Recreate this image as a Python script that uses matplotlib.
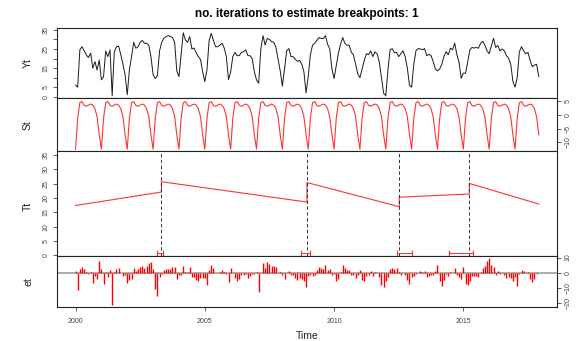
import numpy as np
import matplotlib
matplotlib.use('Agg')
import matplotlib.pyplot as plt

plt.rcParams['font.family'] = ['Liberation Sans', 'DejaVu Sans']

# monthly observations, Jan 2000 - Dec 2017
start_year = 2000
n_years = 18

# observed series Yt
yt = [
    6.1, 5.0, 24.5, 26.2, 24.0, 21.9, 20.5, 22.8, 14.9, 18.4, 14.0, 19.2,    # 2000
    8.8, 10.5, 24.0, 21.0, 24.5, 0.5, 23.5, 26.2, 26.5, 22.0, 17.0, 11.5,    # 2001
    1.0, 14.0, 21.0, 28.5, 25.4, 26.2, 28.5, 29.5, 28.0, 28.0, 27.0, 21.0,   # 2002
    11.5, 9.5, 11.0, 24.0, 28.5, 30.6, 31.5, 32.0, 31.5, 31.0, 28.5, 13.5,   # 2003
    10.5, 22.0, 33.5, 29.7, 28.5, 31.5, 25.0, 25.5, 23.0, 21.0, 19.5, 13.0,  # 2004
    7.9, 14.0, 29.5, 33.2, 29.5, 26.2, 26.2, 27.0, 28.0, 25.5, 21.0, 9.0,    # 2005
    13.0, 21.0, 23.2, 21.5, 21.5, 23.2, 23.6, 24.5, 21.5, 21.5, 20.0, 13.0,  # 2006
    8.8, 7.0, 25.0, 32.0, 27.1, 30.5, 30.0, 28.9, 28.5, 26.0, 19.5, 13.5,    # 2007
    5.5, 14.5, 24.0, 25.2, 21.0, 21.0, 19.5, 18.5, 19.0, 17.0, 13.0, 2.0,    # 2008
    10.5, 22.0, 27.0, 28.0, 29.5, 31.0, 30.5, 30.5, 32.0, 27.5, 25.0, 14.5,  # 2009
    9.5, 16.0, 22.8, 27.5, 31.0, 28.0, 27.0, 27.0, 23.3, 21.9, 17.0, 12.0,   # 2010
    10.0, 14.5, 19.0, 22.5, 22.0, 24.0, 21.0, 23.5, 22.5, 18.0, 10.0, 1.8,   # 2011
    0.5, 14.0, 24.5, 25.2, 23.0, 23.2, 21.0, 22.5, 24.0, 21.0, 15.0, 6.0,    # 2012
    5.0, 17.0, 24.0, 25.2, 25.0, 24.6, 25.2, 21.5, 22.2, 21.5, 18.5, 14.5,   # 2013
    13.5, 14.5, 17.0, 21.0, 23.6, 22.0, 25.4, 24.6, 28.0, 22.0, 18.0, 9.6,   # 2014
    12.3, 12.3, 18.0, 24.5, 25.8, 25.5, 25.8, 25.4, 28.0, 29.0, 27.0, 24.0,  # 2015
    22.5, 26.5, 30.6, 25.8, 26.8, 24.0, 25.0, 24.0, 21.5, 20.2, 17.0, 8.0,   # 2016
    5.0, 10.0, 23.5, 26.2, 24.0, 22.5, 23.2, 19.0, 15.8, 16.5, 17.0, 10.5,   # 2017
]

# seasonal component St (same every year)
st_year = [-12.5, -1.3, 4.4, 4.8, 3.4, 3.1, 3.5, 3.9, 3.5, 2.2, -0.7, -7.3]

# trend component Tt: piecewise linear between breakpoints
breakpoints = [2003.32, 2008.95, 2012.52, 2015.23]
ci_low = [2003.17, 2008.72, 2012.43, 2014.43]
ci_high = [2003.38, 2009.06, 2013.01, 2015.36]
trend_time = [2000.0, 2003.32, 2003.32, 2008.95, 2008.95, 2012.52, 2012.52,
              2015.23, 2015.23, 2017.92]
trend_value = [17.4, 22.1, 25.7, 18.6, 25.4, 17.0, 20.3, 21.4, 25.1, 17.9]

# remainder et
et = [
    1.2, -11.2, 2.5, 3.6, 2.7, 0.8, -1.1, 0.7, -6.9, -2.3, -3.9, 7.8,
    2.5, -7.1, 0.6, -3.0, 1.8, -21.5, 0.5, 2.7, 3.3, -0.1, -2.3, -1.3,
    -6.7, -5.0, -3.8, 3.1, 1.3, 2.3, 4.1, 4.6, 3.4, 4.5, 6.3, 6.8,
    2.4, -10.9, -15.2, -2.8, -0.6, 1.9, 2.5, 2.7, 2.7, 3.6, 4.1, -4.2,
    -1.8, -1.4, 4.5, 0.4, 0.7, 4.1, -2.7, -2.5, -4.5, -5.1, -3.6, -3.4,
    -3.2, -8.2, 1.7, 5.1, 2.9, 0.0, -0.3, 0.2, 1.7, 0.6, -0.8, -6.1,
    3.2, 0.1, -3.3, -5.3, -3.8, -1.7, -1.6, -1.0, -3.5, -2.1, -0.6, -0.9,
    0.2, -12.7, -0.3, 6.4, 3.0, 6.8, 6.0, 4.6, 4.7, 3.6, 0.1, 0.8,
    -1.8, -3.9, 0.0, 0.9, -1.8, -1.4, -3.2, -4.5, -3.5, -4.1, -5.1, -9.3,
    -2.3, -1.8, -2.3, -1.5, 1.6, 3.6, 2.9, 2.7, 4.8, 1.8, 2.4, -1.3,
    -0.9, -5.4, -4.1, 0.3, 5.4, 2.9, 1.7, 1.5, -1.6, -1.5, -3.3, -1.5,
    1.9, -4.6, -5.6, -2.3, -1.2, 1.3, -1.9, 0.4, 0.0, -3.0, -7.9, -9.3,
    -5.2, -2.7, 2.3, 2.8, 2.2, 2.9, 0.5, -1.7, 0.1, -1.6, -4.7, -7.2,
    -3.0, -2.2, -1.0, -0.2, 1.0, 0.8, 1.0, -3.1, -2.1, -1.5, -1.6, 0.9,
    5.1, -5.1, -8.4, -4.8, -0.8, -2.2, 0.8, -0.4, 3.3, -1.4, -2.5, -4.4,
    3.5, -7.7, -7.8, -5.4, -2.4, -2.2, -2.1, -2.7, 0.6, 3.1, 4.2, 8.0,
    10.0, 5.0, 3.6, -1.4, 1.2, -1.1, -0.2, -1.4, -3.3, -3.1, -3.2, -5.3,
    -2.9, -8.9, -0.9, 1.7, 1.1, 0.1, 0.6, -3.8, -6.3, -4.1, -0.5, -0.2,
]

time = start_year + np.arange(len(yt)) / 12
st = np.tile(st_year, n_years)

W, H = 581, 341
fig = plt.figure(figsize=(W / 100, H / 100), dpi=100)


def panel(top, bottom):
    return fig.add_axes([57 / W, (H - bottom) / H, 500.3 / W, (bottom - top) / H])


ax_y = panel(28, 98)
ax_s = panel(98, 151)
ax_t = panel(151, 256)
ax_e = panel(256, 307)
axes = [ax_y, ax_s, ax_t, ax_e]

# Yt
ax_y.plot(time, yt, color='#1a1a1a', lw=0.7)
ax_y.set_ylim(-0.7, 36.0)
ax_y.set_yticks(range(0, 40, 5))
ax_y.set_yticklabels(['0', '5', '', '15', '', '25', '', '35'])

# St
ax_s.plot(time, st, color='#ff3333', lw=0.8)
ax_s.set_ylim(-13.16, 6.09)
ax_s.set_yticks([-10, -5, 0, 5])
ax_s.yaxis.tick_right()

# Tt
ax_t.plot(trend_time, trend_value, color='#ff3333', lw=0.8)
for bp in breakpoints:
    ax_t.axvline(bp, color='#333333', lw=0.7, ls=(0, (3.5, 2.5)))
ci_mid = [(lo + hi) / 2 for lo, hi in zip(ci_low, ci_high)]
ci_err = [[m - lo for m, lo in zip(ci_mid, ci_low)],
          [hi - m for m, hi in zip(ci_mid, ci_high)]]
ax_t.errorbar(ci_mid, [0.9] * len(ci_mid), xerr=ci_err, fmt='none',
              ecolor='#ff3333', elinewidth=0.8, capsize=2.2, capthick=0.8)
ax_t.set_ylim(-0.2, 36.4)
ax_t.set_yticks(range(0, 40, 5))

# et
ax_e.axhline(0, color='#a6a6a6', lw=1.3, zorder=1)
ax_e.vlines(time, 0, et, color='red', lw=1.0, zorder=2)
ax_e.set_ylim(-22.5, 11.0)
ax_e.set_yticks([-20, -10, 0, 10])
ax_e.yaxis.tick_right()

for ax in axes:
    ax.set_xlim(1999.283, 2018.634)
    ax.set_xticks([2000, 2005, 2010, 2015])
    for sp in ax.spines.values():
        sp.set_linewidth(0.8)
        sp.set_color('#222222')
    ax.tick_params(axis='y', labelsize=5, length=3, width=0.6, pad=2.5,
                   colors='#444444', labelrotation=90)
    for lab in ax.get_yticklabels():
        lab.set_va('center')
    if ax is not ax_e:
        ax.tick_params(axis='x', bottom=False, labelbottom=False)

ax_e.tick_params(axis='x', labelsize=5, length=3, width=0.6, pad=5,
                 colors='#444444')

# panel labels
for name, y in [('Yt', 63), ('St', 125), ('Tt', 206), ('et', 281.5)]:
    fig.text(28 / W, 1 - y / H, name, rotation=90, ha='center', va='center',
             fontsize=7.5, color='#222222')

fig.text(307 / W, 1 - 14 / H, 'no. iterations to estimate breakpoints: 1',
         ha='center', va='center', fontsize=8.5, fontweight='bold')
fig.text(307 / W, 1 - 336 / H, 'Time', ha='center', va='center',
         fontsize=7.5, color='#222222')

fig.savefig('out.png', dpi=100)
